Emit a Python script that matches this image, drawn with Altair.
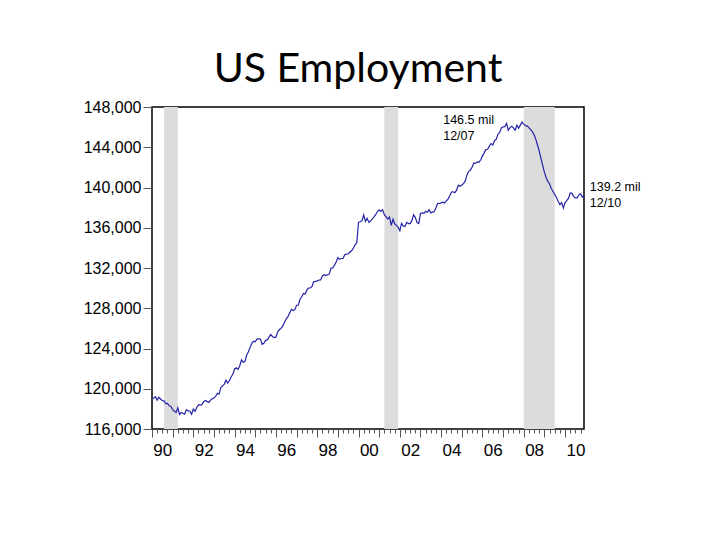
import altair as alt
import pandas as pd

years = list(range(1990, 2011))
emp = {
    1990: [119081, 119059, 119203, 118852, 119151, 118983, 118810, 118802, 118524, 118536, 118306, 118241],
    1991: [117940, 117755, 117652, 118109, 117440, 117639, 117568, 117484, 117928, 117800, 117770, 117466],
    1992: [117978, 117753, 118144, 118426, 118375, 118419, 118713, 118826, 118720, 118628, 118876, 118997],
    1993: [119075, 119275, 119542, 119474, 120115, 120290, 120467, 120856, 120554, 120823, 121169, 121464],
    1994: [121966, 122086, 121930, 122290, 122864, 122634, 122706, 123342, 123687, 124112, 124516, 124721],
    1995: [124663, 124928, 124955, 124945, 124421, 124522, 124816, 124852, 125133, 125388, 125188, 125088],
    1996: [125125, 125639, 125862, 125994, 126244, 126602, 126947, 127172, 127536, 127890, 127771, 127860],
    1997: [128298, 128298, 128891, 129143, 129464, 129412, 129822, 130010, 130019, 130179, 130653, 130679],
    1998: [130726, 130807, 130814, 131209, 131325, 131244, 131329, 131390, 131986, 131999, 132280, 132602],
    1999: [133027, 132856, 132947, 132955, 133311, 133378, 133414, 133591, 133707, 133993, 134309, 134523],
    2000: [136559, 136598, 136701, 137270, 136630, 136940, 136531, 136662, 136893, 137088, 137322, 137614],
    2001: [137778, 137612, 137783, 137299, 137092, 136873, 137071, 136241, 136846, 136392, 136238, 136047],
    2002: [135701, 136438, 136177, 136126, 136539, 136415, 136413, 136705, 137302, 137008, 136521, 136426],
    2003: [137417, 137482, 137434, 137633, 137544, 137790, 137474, 137549, 137609, 137984, 138424, 138411],
    2004: [138472, 138542, 138453, 138680, 138852, 139174, 139556, 139573, 139487, 139732, 140231, 140125],
    2005: [140245, 140385, 140654, 141254, 141609, 141714, 142026, 142434, 142401, 142548, 142499, 142752],
    2006: [143142, 143444, 143765, 143794, 144108, 144370, 144229, 144631, 144797, 145292, 145477, 145914],
    2007: [146032, 146043, 146368, 145686, 145952, 146079, 145926, 145685, 146193, 145885, 146200, 146500],
    2008: [146300, 146150, 146100, 145950, 145750, 145550, 145250, 144800, 144200, 143600, 142900, 142200],
    2009: [141500, 141000, 140600, 140350, 139900, 139600, 139300, 139000, 138600, 138300, 138500, 137968],
    2010: [138511, 138697, 138938, 139455, 139420, 139119, 138960, 138974, 139250, 139391, 139061, 139206],
}

rec_start = [1990 + 7 / 12, 2001 + 3 / 12, 2008.0]
rec_end = [1991 + 3 / 12, 2001 + 11 / 12, 2009.5]

ann_x = [2004.1, 2004.1, 2011.2, 2011.2]
ann_y = [146700, 145100, 140050, 138450]
ann_text = ["146.5 mil", "12/07", "139.2 mil", "12/10"]

y_ticks = list(range(116000, 148001, 4000))
x_ticks = [1990 + q / 4 for q in range(0, 84)]

rows = []
for yr in years:
    for m, v in enumerate(emp[yr]):
        rows.append({"t": yr + m / 12, "emp": v})
df = pd.DataFrame(rows)
rec = pd.DataFrame({"s": rec_start, "e": rec_end})
ann = pd.DataFrame({"x": ann_x, "y": ann_y, "label": ann_text})

xscale = alt.Scale(domain=[1990, 2010 + 11 / 12], nice=False, zero=False)
yscale = alt.Scale(domain=[116000, 148000], nice=False, zero=False)

xaxis = alt.Axis(
    values=x_ticks,
    labelExpr="(datum.value % 2 == 0.5) ? format(floor(datum.value) % 100, '02d') : ''",
    tickSize={"condition": {"test": "datum.value % 1 == 0", "value": 8}, "value": 4},
    tickColor="#555555",
    tickWidth=1,
    labelFont="Liberation Sans",
    labelFontSize=17,
    labelColor="black",
    labelPadding=9,
    labelOverlap=False,
    labelFlush=False,
    domain=False,
    grid=False,
    title=None,
)
yaxis = alt.Axis(
    values=y_ticks,
    format=",d",
    tickSize=9,
    tickColor="#555555",
    labelFont="Liberation Sans",
    labelFontSize=16,
    labelColor="black",
    labelPadding=2,
    domain=False,
    grid=False,
    title=None,
)

bands = alt.Chart(rec).mark_rect(color="#dcdcdc").encode(
    x=alt.X("s:Q", scale=xscale, axis=xaxis),
    x2="e:Q",
    y=alt.value(0),
    y2=alt.value(322),
)

line = alt.Chart(df).mark_line(color="#2323a8", strokeWidth=1.2).encode(
    x=alt.X("t:Q", scale=xscale, axis=xaxis),
    y=alt.Y("emp:Q", scale=yscale, axis=yaxis),
)

text = alt.Chart(ann).mark_text(
    align="left", baseline="middle", font="Liberation Sans", fontSize=12.5, color="black", clip=False
).encode(
    x=alt.X("x:Q", scale=xscale, axis=xaxis),
    y=alt.Y("y:Q", scale=yscale, axis=yaxis),
    text="label:N",
)

chart = (
    alt.layer(bands, line, text)
    .properties(
        width=432,
        height=322,
        background="white",
        autosize=alt.AutoSizeParams(type="none"),
        padding={"left": 144, "top": 99, "right": 120, "bottom": 90},
        title=alt.TitleParams(
            "US Employment",
            font="Lato",
            fontSize=41,
            fontWeight="normal",
            color="black",
            anchor="middle",
            frame="group",
            dx=-10,
            offset=8,
        ),
    )
    .configure_view(stroke="black", strokeWidth=1.5)
)

chart.save("out.html", embed_options={"renderer": "svg", "actions": False})
